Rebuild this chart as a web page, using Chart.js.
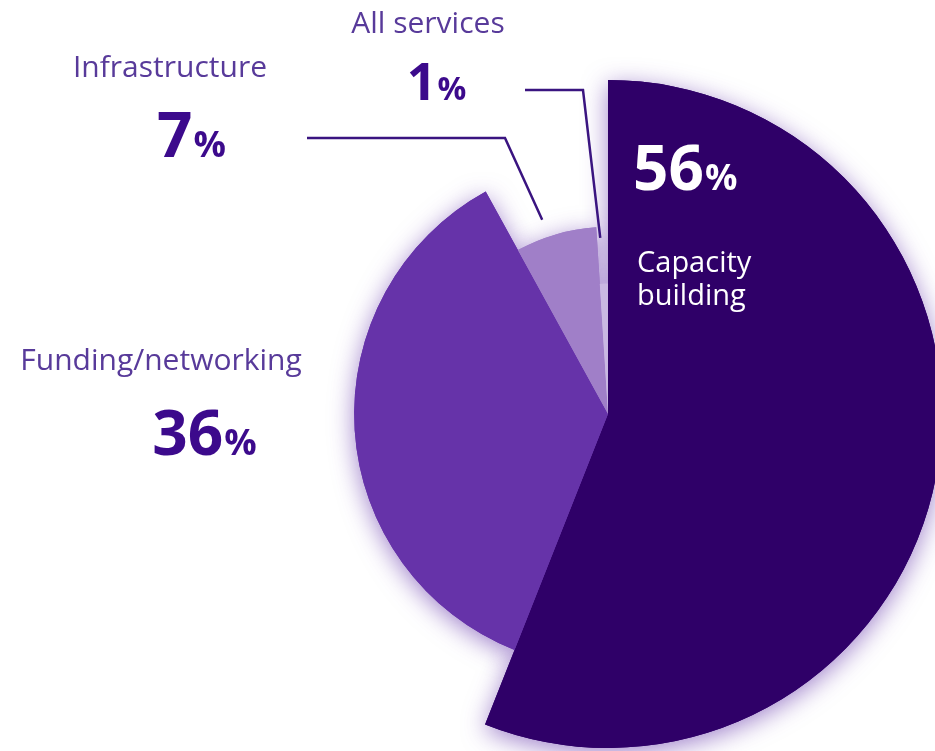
<!DOCTYPE html>
<html>
<head>
<meta charset="utf-8">
<title>Services</title>
<script src="https://cdn.jsdelivr.net/npm/chart.js@4.4.1/dist/chart.umd.min.js"></script>
<style>
    html, body { margin: 0; padding: 0; overflow: hidden; background: #ffffff; }
    #wrap { position: absolute; left: 0; top: 0; width: 950px; height: 751px; }
</style>
</head>
<body>
<div id="wrap"><canvas id="services"></canvas></div>
<script>
// share of projects per service type (%)
var services = ['Capacity building', 'Funding/networking', 'Infrastructure', 'All services'];
var shares = [56, 36, 7, 1];
// outer reach of each slice, relative to the biggest one
var reach = [100, 76, 56, 39];
var sliceColors = ['#2f0068', '#6633a9', '#a07fc8', '#c9b8e2'];

var labelColor = '#583a9a';
var valueColor = '#3c0a8c';
var fontFamily = "'Open Sans', 'Noto Sans', sans-serif";

// soft glow under the slices: draw them once with a shadow, the normal pass covers the inside
var sliceShadow = {
    id: 'sliceShadow',
    beforeDatasetsDraw: function(chart) {
        var ctx = chart.ctx;
        ctx.save();
        ctx.shadowColor = 'rgba(96, 48, 168, 0.6)';
        ctx.shadowBlur = 24;
        ctx.shadowOffsetY = 5;
        chart.getDatasetMeta(0).data.forEach(function(arc) {
            arc.draw(ctx);
        });
        ctx.restore();
    }
};

// value with a smaller % sign after it
function drawValue(ctx, num, x, y, big, small, color, align) {
    ctx.fillStyle = color;
    ctx.textBaseline = 'alphabetic';
    ctx.textAlign = 'left';
    ctx.font = 'bold ' + big + 'px ' + fontFamily;
    var w1 = ctx.measureText(num).width;
    ctx.font = 'bold ' + small + 'px ' + fontFamily;
    var w2 = ctx.measureText('%').width;
    var left = align === 'center' ? x - (w1 + w2) / 2 : x;
    ctx.font = 'bold ' + big + 'px ' + fontFamily;
    ctx.fillText(num, left, y);
    ctx.font = 'bold ' + small + 'px ' + fontFamily;
    ctx.fillText('%', left + w1 + 1, y);
}

function drawLabel(ctx, text, x, y, size, color, align) {
    ctx.fillStyle = color;
    ctx.font = size + 'px ' + fontFamily;
    ctx.textAlign = align;
    ctx.textBaseline = 'alphabetic';
    ctx.fillText(text, x, y);
}

// leader lines for the two thin slices
var leaders = [
    { index: 2, from: [307, 138], elbow: [505, 138], at: 0.4, gap: 18 },
    { index: 3, from: [525, 90], elbow: [583, 90], at: 0.3, gap: 46 }
];

var sliceLabels = {
    id: 'sliceLabels',
    afterDatasetsDraw: function(chart) {
        var ctx = chart.ctx;
        var arcs = chart.getDatasetMeta(0).data;
        ctx.save();

        ctx.strokeStyle = '#3a1480';
        ctx.lineWidth = 2.5;
        leaders.forEach(function(l) {
            var a = arcs[l.index];
            var ang = a.startAngle + (a.endAngle - a.startAngle) * l.at;
            var r = a.outerRadius + l.gap;
            ctx.beginPath();
            ctx.moveTo(l.from[0], l.from[1]);
            ctx.lineTo(l.elbow[0], l.elbow[1]);
            ctx.lineTo(a.x + Math.cos(ang) * r, a.y + Math.sin(ang) * r);
            ctx.stroke();
        });

        // outside labels
        drawLabel(ctx, services[3], 428, 33, 30, labelColor, 'center');
        drawValue(ctx, String(shares[3]), 436, 100, 52, 32, valueColor, 'center');

        drawLabel(ctx, services[2], 170, 77, 30, labelColor, 'center');
        drawValue(ctx, String(shares[2]), 191, 157, 62, 36, valueColor, 'center');

        drawLabel(ctx, services[1], 161, 370, 30, labelColor, 'center');
        drawValue(ctx, String(shares[1]), 204, 455, 62, 36, valueColor, 'center');

        // label inside the big slice
        drawValue(ctx, String(shares[0]), 633, 190, 62, 36, '#ffffff', 'left');
        var words = services[0].split(' ');
        drawLabel(ctx, words[0], 637, 272, 29, '#ffffff', 'left');
        drawLabel(ctx, words[1], 637, 305, 29, '#ffffff', 'left');

        ctx.restore();
    }
};

var ctx = document.getElementById('services');
var chart = new Chart(ctx, {
    type: 'polarArea',
    data: {
        labels: services,
        datasets: [{
            data: reach,
            backgroundColor: sliceColors,
            borderWidth: 0,
            angle: function(c) {
                return shares[c.dataIndex] * 3.6;
            }
        }]
    },
    options: {
        responsive: true,
        maintainAspectRatio: false,
        animation: false,
        events: [],
        layout: {
            padding: { left: 274, top: 80, right: 8, bottom: 3 }
        },
        scales: {
            r: {
                display: false,
                min: 0,
                max: 100,
                startAngle: 0
            }
        },
        plugins: {
            legend: { display: false },
            tooltip: { enabled: false }
        }
    },
    plugins: [sliceShadow, sliceLabels]
});
</script>
</body>
</html>
